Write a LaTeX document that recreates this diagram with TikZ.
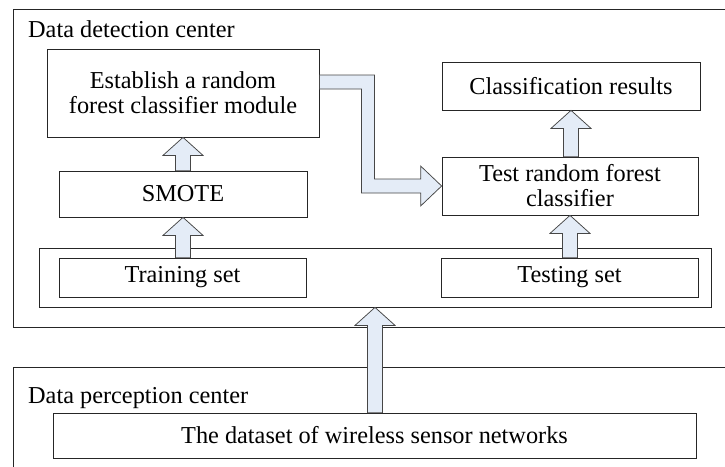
\documentclass[tikz,border=0pt]{standalone}
\usepackage{fontspec}
\setmainfont{Liberation Serif}
\usetikzlibrary{calc}
\definecolor{afill}{RGB}{228,236,247}
\definecolor{aline}{RGB}{70,70,70}
\newcommand\fatup[2]{%
  \path[fat] let \p1=#1, \p2=#2 in
   (\x2,\y2) -- ({\x2+20pt},{\y2-18pt}) -- ({\x2+7.5pt},{\y2-18pt}) -- ({\x2+7.5pt},\y1)
   -- ({\x2-7.5pt},\y1) -- ({\x2-7.5pt},{\y2-18pt}) -- ({\x2-20pt},{\y2-18pt}) -- cycle;}
\begin{document}
\begin{tikzpicture}[x=1pt,y=-1pt,
  txt/.style={font=\fontsize{24.3}{25}\selectfont},
  box/.style={txt,draw=black!85,line width=0.75pt,inner sep=0pt,align=center},
  fat/.style={fill=afill,draw=aline,line width=0.75pt,line join=miter}]
\useasboundingbox (0,0) rectangle (725,466);
% outer regions
\node[box,minimum width=717pt,minimum height=318pt] (det) at (371.5,168) {};
\node[box,minimum width=717pt,minimum height=108pt] (per) at (371.5,421) {};
\node[txt,anchor=base west,inner sep=0pt] (detlab) at (28,37) {Data detection center};
\node[txt,anchor=base west,inner sep=0pt] (perlab) at (28,403) {Data perception center};
% boxes
\node[box,minimum width=272pt,minimum height=88pt] (est) at (183,93) {Establish a random\\forest classifier module};
\node[box,minimum width=248pt,minimum height=46pt] (smote) at (183,194) {SMOTE};
\node[box,minimum width=258pt,minimum height=48pt] (cls) at (571,86) {Classification results};
\node[box,minimum width=256pt,minimum height=58pt] (test) at (570,186) {Test random forest\\classifier};
\node[box,minimum width=672pt,minimum height=59pt] (cont) at (375,277.5) {};
\node[box,minimum width=247pt,minimum height=39pt] (train) at (182.5,277.5) {Training set};
\node[box,minimum width=257pt,minimum height=39pt] (testing) at (569.5,277.5) {Testing set};
\node[box,minimum width=643pt,minimum height=45pt] (data) at (374.5,435.5) {The dataset of wireless sensor networks};
% arrows
\fatup{(train.north)}{(smote.south)}
\fatup{(smote.north)}{(est.south)}
\fatup{(testing.north)}{(test.south)}
\fatup{(test.north)}{(cls.south)}
\fatup{(data.north)}{(cont.south)}
\path[fat] let \p1=([yshift=11pt]est.east), \p2=(test.west), \p3=([xshift=48.5pt]est.east) in
  (\x1,{\y1+7pt}) -- ({\x3+6.5pt},{\y1+7pt}) -- ({\x3+6.5pt},{\y2+7pt}) -- ({\x2-21pt},{\y2+7pt})
  -- ({\x2-21pt},{\y2+20pt}) -- (\x2,\y2) -- ({\x2-21pt},{\y2-20pt}) -- ({\x2-21pt},{\y2-7pt})
  -- ({\x3-6.5pt},{\y2-7pt}) -- ({\x3-6.5pt},{\y1-7pt}) -- (\x1,{\y1-7pt}) -- cycle;
\end{tikzpicture}
\end{document}
